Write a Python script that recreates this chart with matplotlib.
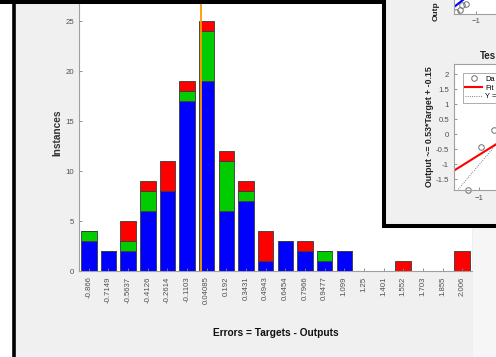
import numpy as np
import matplotlib.pyplot as plt
from matplotlib.patches import Rectangle

plt.rcParams['font.family'] = ['Liberation Sans', 'DejaVu Sans']

# error histogram bins (bin centres as printed under the bars)
bin_labels = ['-0.866', '-0.7149', '-0.5637', '-0.4126', '-0.2614', '-0.1103',
              '0.04085', '0.192', '0.3431', '0.4943', '0.6454', '0.7966',
              '0.9477', '1.099', '1.25', '1.401', '1.552', '1.703', '1.855', '2.006']
training   = [3, 2, 2, 6, 8, 17, 19, 6, 7, 1, 3, 2, 1, 2, 0, 0, 0, 0, 0, 0]
validation = [1, 0, 1, 2, 0, 1, 5, 5, 1, 0, 0, 0, 1, 0, 0, 0, 0, 0, 0, 0]
test       = [0, 0, 2, 1, 3, 1, 1, 1, 1, 3, 0, 1, 0, 0, 0, 0, 1, 0, 0, 2]

# partly hidden regression window (Test subplot)
test_targets = [-1.46, -0.94, -0.43]
test_outputs = [-1.85, -0.43, 0.14]
fit_slope, fit_icept = 0.53, -0.15
# upper subplot, only a corner is visible
top_targets = [-1.79, -1.63, -1.55, -1.40]
top_outputs = [-1.90, -1.80, -1.55, -1.50]
top_slope, top_icept = 1.0, 0.22

W, H = 496, 357
fig = plt.figure(figsize=(W / 100, H / 100), dpi=100, facecolor='#f0f0f0')


def fr(x0, y0, x1, y1):
    # pixel box (top-left origin) -> figure fraction
    return [x0 / W, 1 - y1 / H, (x1 - x0) / W, (y1 - y0) / H]


def style(a, fs=5.6):
    for s in ['top', 'right']:
        a.spines[s].set_visible(False)
    for s in ['left', 'bottom']:
        a.spines[s].set_color('#a0a0a0')
        a.spines[s].set_linewidth(0.8)
    a.tick_params(direction='in', length=2.5, width=0.6, color='#808080',
                  labelcolor='#505050', labelsize=fs)


# ---- main histogram ----
ax = fig.add_axes(fr(79, 0, 472, 271), zorder=1)
x = np.arange(len(bin_labels))
tr = np.array(training)
va = np.array(validation)
te = np.array(test)
bw = 0.79
ax.bar(x, tr, bw, color='#0000ff', edgecolor='#3a3a3a', linewidth=0.6)
ax.bar(x, va, bw, bottom=tr, color='#00cc00', edgecolor='#3a3a3a', linewidth=0.6)
ax.bar(x, te, bw, bottom=tr + va, color='#ff0000', edgecolor='#3a3a3a', linewidth=0.6)

centers = np.array([float(s) for s in bin_labels])
zero_pos = np.interp(0, centers, x)
ax.axvline(zero_pos, color='#ff9900', lw=1.3, zorder=5)

ax.set_xlim(-0.5, 19.5)
ax.set_ylim(0, 27.1)
ax.set_yticks([0, 5, 10, 15, 20, 25])
ax.set_xticks(x)
ax.set_xticklabels(bin_labels, rotation=90, va='top')
style(ax)
ax.tick_params(axis='x', pad=4)
ax.tick_params(axis='y', pad=3.5)

fig.text(275.5 / W, 1 - 333 / H, 'Errors = Targets - Outputs', ha='center', va='center',
         fontsize=7.3, fontweight='bold', color='#111111')
fig.text(57 / W, 1 - 133 / H, 'Instances', ha='center', va='center', rotation=90,
         fontsize=7.3, fontweight='bold', color='#333333')

# ---- overlay: window frames ----
ov = fig.add_axes([0, 0, 1, 1], zorder=2)
ov.set_xlim(0, W)
ov.set_ylim(H, 0)
ov.axis('off')
ov.add_patch(Rectangle((0, 0), 12.5, H, fc='white', ec='none'))
ov.add_patch(Rectangle((384, 0), W - 384, 226, fc='#f0f0f0', ec='none'))
ov.add_patch(Rectangle((473, 228), W - 473, H - 228, fc='#f6f6f6', ec='none'))
ov.plot([14, 14], [0, H], color='black', lw=2.6, solid_capstyle='butt')
ov.plot([0, 386], [2, 2], color='black', lw=2.9, solid_capstyle='butt')
ov.plot([384, 384], [0, 227], color='black', lw=2.9, solid_capstyle='butt')
ov.plot([382, W], [226, 226], color='black', lw=2.9, solid_capstyle='butt')

# ---- regression window, lower subplot (only the visible part of its texts) ----
ax2 = fig.add_axes(fr(454, 64, 555.6, 190), zorder=3)
ax2.set_xlim(-2, 2)
ax2.set_ylim(-1.857, 2.343)
tt = np.array([-2, 2])
ax2.plot(tt, tt, ':', color='#555555', lw=0.6, label='Y =')
ax2.plot(tt, fit_slope * tt + fit_icept, color='#ff0000', lw=1.5, label='Fit')
ax2.plot(test_targets, test_outputs, 'o', mfc='none', mec='#707070', ms=4, mew=0.7,
         label='Da', clip_on=False)
yt = [-1.5, -1, -0.5, 0, 0.5, 1, 1.5, 2]
ax2.set_yticks(yt)
ax2.set_yticklabels(['%g' % v for v in yt])
ax2.set_xticks([-1])
style(ax2)
for s in ['top', 'right']:
    ax2.spines[s].set_visible(True)
    ax2.spines[s].set_color('#a0a0a0')
h, l = ax2.get_legend_handles_labels()
leg = ax2.legend([h[2], h[1], h[0]], [l[2], l[1], l[0]], loc='upper left',
                 bbox_to_anchor=(0.05, 0.955, 0.6, 0), mode='expand', fontsize=5.4,
                 frameon=True, fancybox=False, handlelength=2.3, borderpad=0.3,
                 labelspacing=0.2, handletextpad=0.4)
leg.get_frame().set_edgecolor('#888888')
leg.get_frame().set_linewidth(0.6)
fig.text(480 / W, 1 - 56 / H, 'Tes', ha='left', va='center', fontsize=7,
         fontweight='bold', color='#222222', zorder=4)
fig.text(429 / W, 1 - 127 / H, 'Output ~= 0.53*Target + -0.15', ha='center', va='center',
         rotation=90, fontsize=6.3, fontweight='bold', color='#222222', zorder=4)

# ---- regression window, upper subplot (cut off) ----
ax3 = fig.add_axes(fr(454, -66, 560, 14), zorder=3)
ax3.set_xlim(-1.87, 2.3)
ax3.set_ylim(-2, 2)
t3 = np.array([-1.87, 2.3])
ax3.plot(t3, top_slope * t3 + top_icept, color='#0000ff', lw=1.5)
ax3.plot(top_targets, top_outputs, 'o', mfc='none', mec='#707070', ms=4, mew=0.7)
ax3.set_xticks([-1])
ax3.set_yticks([])
style(ax3)
ax3.spines['right'].set_visible(True)
ax3.spines['right'].set_color('#a0a0a0')
ax3.tick_params(axis='x', pad=3)
fig.text(436 / W, 1 - 21 / H, 'Outp', ha='center', va='bottom',
         rotation=90, fontsize=6.0, fontweight='bold', color='#222222', zorder=4)

fig.savefig('out.png', dpi=100, facecolor=fig.get_facecolor())
